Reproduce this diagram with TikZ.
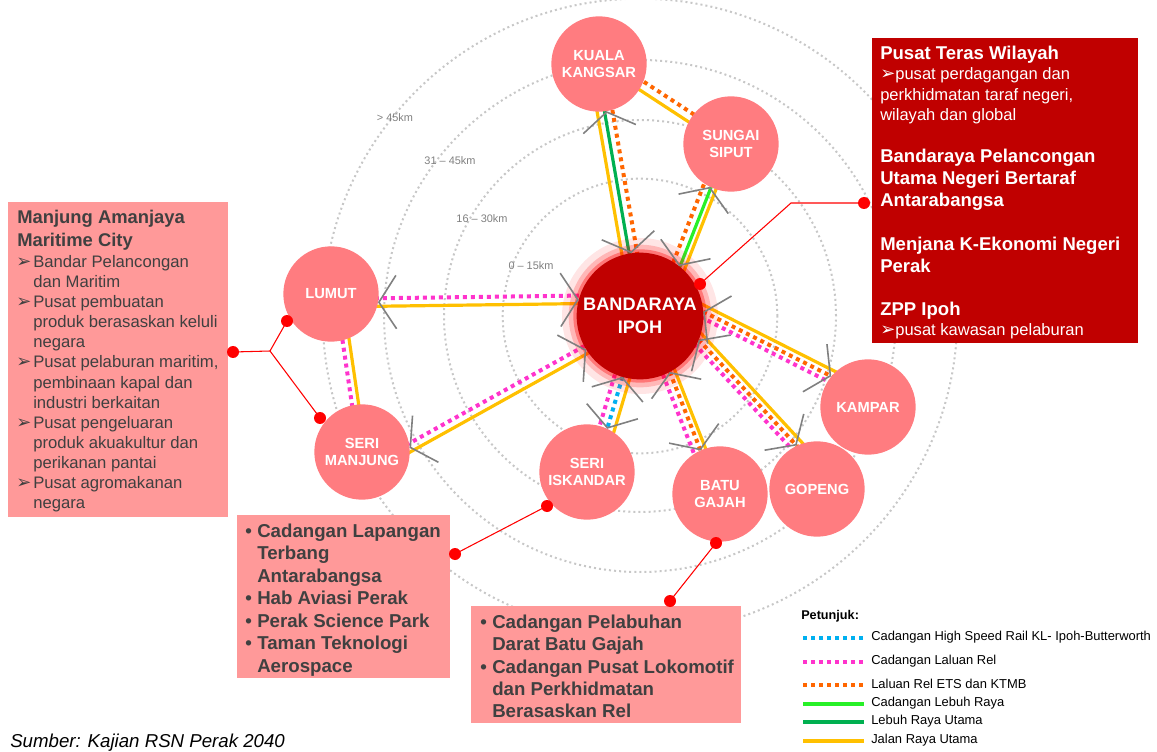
\documentclass[tikz,border=0pt]{standalone}
\usepackage{fontspec}
\setmainfont{Liberation Sans}
\newfontfamily\symfont{DejaVu Sans}
\usetikzlibrary{arrows.meta, calc, decorations.markings}
\definecolor{perak_red}{RGB}{192, 0, 0}
\definecolor{town_pink}{RGB}{255, 124, 128}
\definecolor{box_pink}{RGB}{255, 153, 153}
\definecolor{txt_grey}{RGB}{64, 64, 64}
\definecolor{chev_grey}{RGB}{128, 128, 128}
\definecolor{road_yellow}{RGB}{255, 192, 0}
\definecolor{rail_orange}{RGB}{255, 102, 0}
\definecolor{rail_pink}{RGB}{255, 51, 204}
\definecolor{hsr_blue}{RGB}{0, 176, 240}
\definecolor{hwy_green}{RGB}{0, 176, 80}
\definecolor{hwy_lime}{RGB}{40, 240, 40}
\pgfdeclarelayer{rings}
\pgfdeclarelayer{routes}
\pgfsetlayers{rings,routes,main}

\newcommand\arrowbul{{\symfont\fontsize{13.5}{13.5}\selectfont ➢}}
% bundle of parallel routes between two anchors: offset/style list
\newcommand\routebundle[3]{%
  \begin{pgfonlayer}{routes}
    \foreach \off/\kind in {#3}
      \draw[\kind, shorten <=-6pt, shorten >=-6pt] ($(#1)!\off!90:(#2)$) -- ($(#2)!\off!-90:(#1)$);
  \end{pgfonlayer}}
% grey chevrons at both ends of a link
\newcommand\routeends[2]{%
  \path[decoration={markings,
      mark=at position 0 with {\arrowreversed{chev}},
      mark=at position 1 with {\arrow{chev}}}, decorate] (#1) -- (#2);}

\begin{document}
\begin{tikzpicture}[x=0.75pt, y=-0.75pt,
    chev/.tip={Straight Barb[length=13pt, width=40pt, line width=1.2pt, color=chev_grey]},
    town/.style={circle, fill=town_pink, minimum size=71.5pt, inner sep=0pt, outer sep=0pt, align=center, text=white, font=\bfseries\fontsize{11}{13}\selectfont},
    ipohnode/.style={town, fill=perak_red, minimum size=95pt, font=\bfseries\fontsize{13.6}{17}\selectfont,
        preaction={draw=red, draw opacity=0.1, line width=22pt},
        preaction={draw=red, draw opacity=0.2, line width=12pt},
        preaction={draw=red, draw opacity=0.35, line width=5pt}},
    ring/.style={draw=black!22, line width=1.5pt, dash pattern=on 1.5pt off 2.3pt},
    ringlabel/.style={text=black!50, font=\fontsize{8.2}{10}\selectfont, inner sep=0pt},
    solidline/.style={line width=2.4pt},
    dotline/.style={line width=3pt, dash pattern=on 3pt off 3pt},
    mainroad/.style={solidline, draw=road_yellow},
    hwy/.style={solidline, draw=hwy_green},
    newhwy/.style={solidline, draw=hwy_lime},
    etsrail/.style={dotline, draw=rail_orange},
    newrail/.style={dotline, draw=rail_pink},
    hsr/.style={dotline, draw=hsr_blue},
    reddot/.style={circle, fill=red, minimum size=9pt, inner sep=0pt},
    redline/.style={draw=red, line width=0.8pt},
    mjhead/.style={anchor=base west, inner sep=0pt, text=txt_grey, font=\bfseries\fontsize{13.8}{16}\selectfont},
    mjtext/.style={anchor=base west, inner sep=0pt, text=txt_grey, font=\fontsize{12.5}{15}\selectfont},
    rbhead/.style={anchor=base west, inner sep=0pt, text=white, font=\bfseries\fontsize{13.9}{16}\selectfont},
    rbtext/.style={anchor=base west, inner sep=0pt, text=white, font=\fontsize{12.4}{15}\selectfont},
    boxtext/.style={anchor=base west, inner sep=0pt, text=txt_grey, font=\bfseries\fontsize{14}{16}\selectfont},
    legtitle/.style={anchor=west, inner sep=0pt, font=\bfseries\fontsize{9.5}{11}\selectfont},
    legtext/.style={anchor=west, inner sep=0pt, font=\fontsize{9.7}{11}\selectfont}
  ]
  \useasboundingbox (0,0) rectangle (1157,752);

  % towns
  \node[ipohnode] (ipoh) at (640,316) {BANDARAYA\\IPOH};
  \node[town] (kk) at (599,64) {KUALA\\KANGSAR};
  \node[town] (ss) at (731,144) {SUNGAI\\SIPUT};
  \node[town] (lumut) at (331,294) {LUMUT};
  \node[town] (manjung) at (362,452) {SERI\\MANJUNG};
  \node[town] (iskandar) at (587,472) {SERI\\ISKANDAR};
  \node[town] (batugajah) at (720,494) {BATU\\GAJAH};
  \node[town] (gopeng) at (817,489) {GOPENG};
  \node[town] (kampar) at (868,407) {KAMPAR};

  % distance rings
  \begin{pgfonlayer}{rings}
    \foreach \r in {103,147,192,238}
      \draw[ring] (ipoh.center) circle[radius=\r pt];
  \end{pgfonlayer}
  \node[ringlabel] (band1) at (531,266) {0 – 15km};
  \node[ringlabel] (band2) at (482,219) {16 – 30km};
  \node[ringlabel] (band3) at (450,161) {31 – 45km};
  \node[ringlabel] (band4) at (395,118) {> 45km};

  % route bundles
  \routebundle{ipoh.165}{lumut.350}{-3pt/newrail, 3pt/mainroad}
  \routebundle{ipoh.212}{manjung.5}{-3pt/newrail, 3pt/mainroad}
  \routebundle{lumut.-72}{manjung.98}{-2.5pt/newrail, 2.5pt/mainroad}
  \routebundle{kk.-27}{ss.147}{3.4pt/etsrail, -3.4pt/mainroad}
  \routebundle{kk.-81}{ipoh.98}{-7pt/mainroad, -1.5pt/hwy, 4.5pt/etsrail}
  \routebundle{ss.-116}{ipoh.52}{-5pt/etsrail, 0.8pt/newhwy, 4.8pt/mainroad}
  \routebundle{ipoh.4}{kampar.140}{4.5pt/mainroad, 0pt/etsrail, -4.5pt/newrail}
  \routebundle{ipoh.-22}{gopeng.115}{4.5pt/mainroad, 0pt/etsrail, -4.5pt/newrail}
  \routebundle{ipoh.-62}{batugajah.114}{-5.5pt/newrail, 0pt/etsrail, 4pt/mainroad}
  \routebundle{ipoh.-106}{iskandar.65}{-6pt/newrail, 0pt/hsr, 5.5pt/mainroad}

  \routeends{ipoh.165}{lumut.350}
  \routeends{ipoh.212}{manjung.5}
  \routeends{kk.-81}{ipoh.98}
  \routeends{ss.-116}{ipoh.52}
  \routeends{ipoh.4}{kampar.140}
  \routeends{ipoh.-22}{gopeng.115}
  \routeends{ipoh.-62}{batugajah.114}
  \routeends{ipoh.-106}{iskandar.65}

  % Manjung box
  \fill[box_pink] (8,202) rectangle (228,517);
  \node[mjhead] (mjtitle1) at (17,224) {Manjung Amanjaya};
  \node[mjhead] (mjtitle2) at (17,247) {Maritime City};
  \foreach \txt/\yy/\bul [count=\i] in {
      Bandar Pelancongan/268/1, dan Maritim/288/0, Pusat pembuatan/308/1,
      produk berasaskan keluli/328/0, negara/348/0, {Pusat pelaburan maritim,}/368/1,
      pembinaan kapal dan/388/0, industri berkaitan/408/0, Pusat pengeluaran/428/1,
      produk akuakultur dan/448/0, perikanan pantai/468/0, Pusat agromakanan/488/1,
      negara/508/0}{
    \node[mjtext] (mjline\i) at (33,\yy) {\txt};
    \ifnum\bul=1 \node[mjtext] (mjbul\i) at (16,\yy) {\arrowbul}; \fi
  }

  % Ipoh box
  \fill[perak_red] (872,38) rectangle (1138,343);
  \node[rbhead] (ptw) at (880,60) {Pusat Teras Wilayah};
  \node[rbtext] (ptw1) at (880,80) {\arrowbul pusat perdagangan dan};
  \node[rbtext] (ptw2) at (880,101) {perkhidmatan taraf negeri,};
  \node[rbtext] (ptw3) at (880,121) {wilayah dan global};
  \foreach \txt/\yy [count=\i] in {Bandaraya Pelancongan/163, Utama Negeri Bertaraf/185,
      Antarabangsa/207, Menjana K-Ekonomi Negeri/251, Perak/273, ZPP Ipoh/316}
    \node[rbhead] (iphead\i) at (880,\yy) {\txt};
  \node[rbtext] (zpp1) at (880,335) {\arrowbul pusat kawasan pelaburan};

  % Seri Iskandar box
  \fill[box_pink] (237,515) rectangle (450,678);
  \foreach \txt/\yy/\bul [count=\i] in {Cadangan Lapangan/537/1, Terbang/559/0,
      Antarabangsa/582/0, Hab Aviasi Perak/604/1, Perak Science Park/627/1,
      Taman Teknologi/649/1, Aerospace/672/0}{
    \node[boxtext] (skline\i) at (257,\yy) {\txt};
    \ifnum\bul=1 \node[boxtext] (skbul\i) at (245,\yy) {•}; \fi
  }

  % Batu Gajah box
  \fill[box_pink] (471,606) rectangle (741,723);
  \foreach \txt/\yy/\bul [count=\i] in {Cadangan Pelabuhan/628/1, Darat Batu Gajah/650/0,
      Cadangan Pusat Lokomotif/673/1, dan Perkhidmatan/695/0, Berasaskan Rel/717/0}{
    \node[boxtext] (bgline\i) at (492,\yy) {\txt};
    \ifnum\bul=1 \node[boxtext] (bgbul\i) at (480,\yy) {•}; \fi
  }

  % leaders
  \node[reddot] (dIpoh) at (700,284) {};
  \coordinate (bendIpoh) at (791,203);
  \node[reddot] (dRight) at (864,203) {};
  \draw[redline] (dIpoh.center) -- (bendIpoh) -- (dRight.center);
  \node[reddot] (dLeft) at (233,352) {};
  \coordinate (fork) at (270,351);
  \node[reddot] (dLumut) at (287,321) {};
  \node[reddot] (dManjung) at (320,418) {};
  \draw[redline] (dLeft.center) -- (fork) -- (dLumut.center);
  \draw[redline] (fork) -- (dManjung.center);
  \node[reddot] (dIsk) at (547,506) {};
  \node[reddot] (dBoxA) at (455,554) {};
  \draw[redline] (dIsk.center) -- (dBoxA.center);
  \node[reddot] (dBg) at (716,543) {};
  \node[reddot] (dBoxB) at (670,601) {};
  \draw[redline] (dBg.center) -- (dBoxB.center);

  % legend
  \node[legtitle] (legtitle) at (801,616) {Petunjuk:};
  \foreach \kind/\yy/\txt [count=\i] in {hsr/638/Cadangan High Speed Rail KL- Ipoh-Butterworth,
      newrail/662/Cadangan Laluan Rel, etsrail/685/Laluan Rel ETS dan KTMB,
      newhwy/704/Cadangan Lebuh Raya, hwy/722/Lebuh Raya Utama, mainroad/741/Jalan Raya Utama}{
    \draw[\kind] (803,\yy) -- (864,\yy);
    \node[legtext] (leg\i) at (871,\yy-1) {\txt};
  }

  \node[anchor=base west, inner sep=0pt, font=\itshape\fontsize{14}{16}\selectfont] (source) at (10,747) {Sumber: Kajian RSN Perak 2040};
\end{tikzpicture}
\end{document}
